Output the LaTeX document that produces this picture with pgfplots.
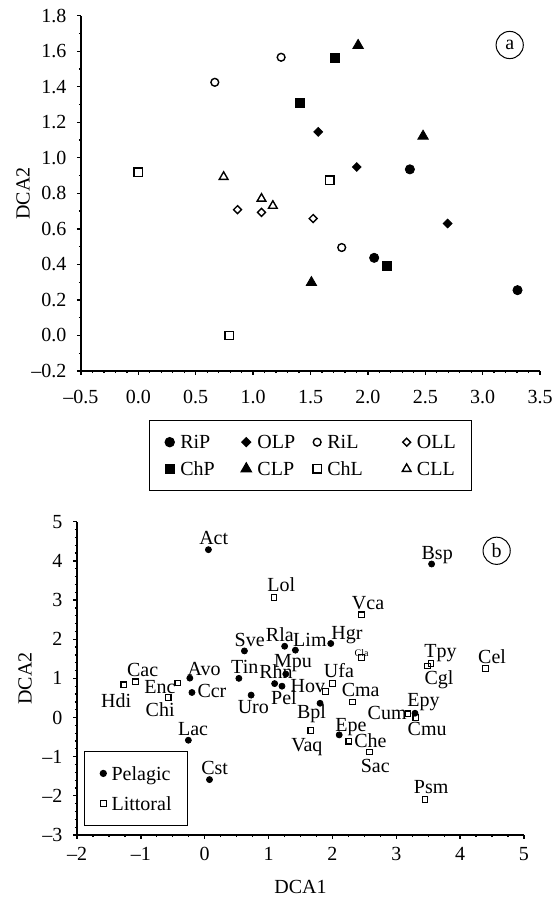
\documentclass[border=0pt]{standalone}
\usepackage{fontspec}
\setmainfont{Liberation Serif}
\usepackage{pgfplots}
\usepackage{pgfplotstable}
\pgfplotsset{compat=1.18}

% panel b: species scores and label offsets (pt)
\pgfplotstableread{
x y lab dx dy
0.058 4.286 Act 2.65 6.1
3.553 3.920 Bsp 2.8 5.5
0.622 1.700 Sve 2.65 5.6
1.252 1.820 Rla -2.4 5.5
1.420 1.720 Lim 7.25 5.1
1.974 1.890 Hgr 8.1 5.25
1.270 1.110 Mpu 3.65 6.6
0.535 1.000 Tin 2.95 5.95
-0.233 1.006 Avo 7.1 4.7
-0.200 0.639 Ccr 10.0 0.75
1.095 0.866 Rhn 0.65 6.0
1.210 0.800 Pel 1.0 -5.9
0.727 0.572 Uro 1.1 -6.0
1.806 0.364 Bpl -4.25 -4.5
2.106 -0.443 Epe 5.85 4.75
3.293 0.109 Epy 4.25 6.8
-0.256 -0.580 Lac 2.35 5.7
0.075 -1.585 Cst 2.6 5.9
}\pelagic

\pgfplotstableread{
x y lab dx dy
1.086 3.070 Lol 3.6 6.0
2.456 2.624 Vca 3.25 6.1
-1.083 0.912 Cac 3.55 6.05
-1.267 0.835 Hdi -3.85 -7.85
-0.422 0.878 Enc -8.9 -2.0
-0.572 0.511 Chi -4.0 -6.0
2.003 0.867 Ufa 3.15 6.25
1.895 0.666 Hov -8.9 3.0
2.318 0.400 Cma 4.0 6.05
1.661 -0.332 Vaq -1.95 -7.1
2.256 -0.605 Che 10.85 0
2.583 -0.878 Sac 2.8 -6.85
3.183 0.094 Cum -10.4 0.5
3.306 0.000 Cmu 5.65 -5.65
3.543 1.378 Tpy 4.75 6.25
3.492 1.313 Cgl 5.65 -5.9
4.400 1.257 Cel 3.2 5.5
3.450 -2.097 Psm 3.1 6.15
}\littoral

\pgfplotsset{
  dca/.style={
    scale only axis,
    axis lines*=left,
    tick align=outside,
    axis line style={line width=0.65pt},
    every tick/.style={black, line width=0.65pt},
    major tick length=2pt,
    minor tick length=1.1pt,
    clip=false,
    yticklabel style={xshift=-1.8pt},
    legend cell align=left,
    legend image code/.code={\draw[##1] plot coordinates {(0pt,0pt)};},
  },
  lbl/.style={
    nodes near coords,
    point meta=explicit symbolic,
    visualization depends on={\thisrow{dx}\as\ldx},
    visualization depends on={\thisrow{dy}\as\ldy},
    every node near coord/.append style={anchor=center, inner sep=0pt,
      xshift=\ldx pt, yshift=\ldy pt,
      text height=6.6pt, text depth=0pt, black},
  },
}

\begin{document}
\begin{tikzpicture}
\useasboundingbox (0,0) rectangle (279pt,449pt);

% (a) sites
\begin{axis}[dca,
  at={(40.5pt,263.5pt)}, anchor=south west,
  width=229.5pt, height=177.65pt,
  xmin=-0.5, xmax=3.5, ymin=-0.2, ymax=1.8,
  xtick={-0.5,0,0.5,1,1.5,2,2.5,3,3.5},
  xticklabels={–0.5,0.0,0.5,1.0,1.5,2.0,2.5,3.0,3.5},
  ytick={-0.2,0,0.2,0.4,0.6,0.8,1,1.2,1.4,1.6,1.8},
  yticklabels={–0.2,0.0,0.2,0.4,0.6,0.8,1.0,1.2,1.4,1.6,1.8},
  minor x tick num=4, minor y tick num=1,
  xticklabel style={yshift=-4.2pt},
  ylabel={DCA2},
  every axis y label/.style={at={(axis description cs:-0.1264,0.5)}, rotate=90, anchor=center},
  legend columns=4,
  legend style={at={(0.5,-0.1379)}, anchor=north, draw=black, line width=0.6pt,
    inner xsep=7.9pt, inner ysep=7.5pt, row sep=6.75pt, column sep=3pt,
    /tikz/column 2/.style={column sep=13.15pt},
    /tikz/column 4/.style={column sep=8.85pt},
    /tikz/column 6/.style={column sep=19.7pt},
    nodes={inner sep=0pt, text height=6.6pt, text depth=0pt}},
]
\addplot[only marks, black, mark=*, mark size=2.3pt]
  coordinates {(2.366,0.935) (2.055,0.437) (3.304,0.255)};
\addlegendentry{RiP}
\addplot[only marks, black, mark=square*, mark size=1.55pt, mark options={rotate=45}]
  coordinates {(1.567,1.146) (1.903,0.948) (2.695,0.630)};
\addlegendentry{OLP}
\addplot[only marks, black, mark=o, mark size=1.95pt, line width=0.7pt]
  coordinates {(0.666,1.425) (1.244,1.566) (1.772,0.495)};
\addlegendentry{RiL}
\addplot[only marks, black, mark=square, mark size=1.4pt, line width=0.7pt, mark options={rotate=45}]
  coordinates {(0.864,0.708) (1.073,0.693) (1.523,0.658)};
\addlegendentry{OLL}
\addplot[only marks, black, mark=square*, mark size=2.25pt]
  coordinates {(1.716,1.560) (1.411,1.309) (2.164,0.392)};
\addlegendentry{ChP}
\addplot[only marks, black, mark=triangle*, mark size=3pt]
  coordinates {(1.915,1.633) (2.481,1.122) (1.508,0.298)};
\addlegendentry{CLP}
\addplot[only marks, black, mark=square, mark size=2.1pt, line width=0.7pt]
  coordinates {(0.0,0.918) (1.669,0.873) (0.79,0.0)};
\addlegendentry{ChL}
\addplot[only marks, black, mark=triangle, mark size=2.5pt, line width=0.7pt]
  coordinates {(0.743,0.893) (1.073,0.770) (1.172,0.730)};
\addlegendentry{CLL}
\node[draw, circle, line width=0.5pt, minimum size=13.6pt, inner sep=0pt] at (axis cs:3.236,1.635) {a};
\end{axis}

% (b) species
\begin{axis}[dca,
  at={(38.5pt,31.5pt)}, anchor=south west,
  width=223.5pt, height=156.65pt,
  xmin=-2, xmax=5, ymin=-3, ymax=5,
  xtick={-2,-1,0,1,2,3,4,5},
  xticklabels={–2,–1,0,1,2,3,4,5},
  ytick={-3,-2,-1,0,1,2,3,4,5},
  yticklabels={–3,–2,–1,0,1,2,3,4,5},
  minor x tick num=3, minor y tick num=4,
  xticklabel style={yshift=-0.5pt},
  xlabel={DCA1}, ylabel={DCA2},
  every axis x label/.style={at={(axis description cs:0.5,-0.165)}, anchor=center},
  every axis y label/.style={at={(axis description cs:-0.1163,0.5)}, rotate=90, anchor=center},
  legend columns=1,
  legend style={at={(0.01566,0.0287)}, anchor=south west, draw=black, line width=0.6pt,
    inner xsep=7.85pt, inner ysep=7.7pt, row sep=8.4pt, column sep=2.65pt,
    nodes={inner sep=0pt, text height=6.6pt, text depth=0pt}},
]
\addplot[only marks, black, mark=*, mark size=1.5pt, lbl, forget plot]
  table[x=x, y=y, meta=lab] {\pelagic};
\addplot[only marks, black, mark=square, mark size=1.4pt, line width=0.55pt, lbl, forget plot]
  table[x=x, y=y, meta=lab] {\littoral};
\addplot[only marks, black, mark=square, mark size=1.4pt, line width=0.55pt, forget plot]
  coordinates {(2.456,1.527)};
\addlegendimage{only marks, black, mark=*, mark size=1.5pt}
\addlegendentry{Pelagic}
\addlegendimage{only marks, black, mark=square, mark size=1.4pt, line width=0.55pt}
\addlegendentry{Littoral}
\node[font=\fontsize{5}{6}\selectfont, inner sep=0pt] at (axis cs:2.456,1.645) {Cla};
\node[draw, circle, line width=0.5pt, minimum size=13.6pt, inner sep=0pt] at (axis cs:4.572,4.258) {b};
\end{axis}
\end{tikzpicture}
\end{document}
